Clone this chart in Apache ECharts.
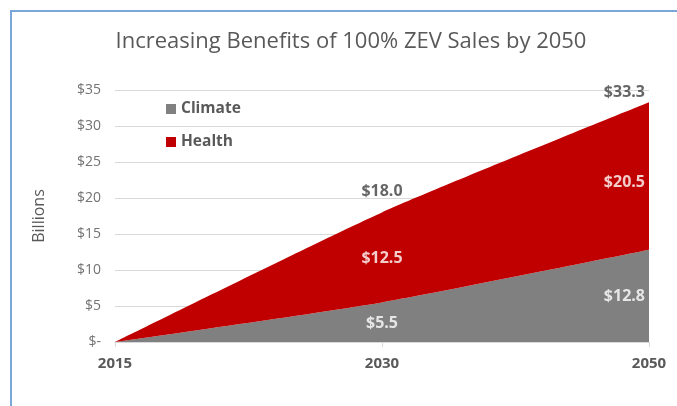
<!DOCTYPE html>
<html>
<head>
<meta charset="utf-8">
<script src="https://cdn.jsdelivr.net/npm/echarts@6/dist/echarts.min.js"></script>
<style>
    html, body { margin: 0; padding: 0; background: #fff; }
    #frame {
        position: absolute; left: 10px; top: 10px; width: 667px; height: 396px;
        border-left: 2px solid #7aa6d8; border-top: 2px solid #7aa6d8;
        box-sizing: border-box;
    }
    #chart { position: absolute; left: 0; top: 0; width: 677px; height: 406px; }
</style>
</head>
<body>
<div id="frame"></div>
<div id="chart"></div>
<script>
const years = ["2015", "2030", "2050"];
const climate = [0, 5.5, 12.8];
const health = [0, 12.5, 20.5];
const yTicks = [0, 5, 10, 15, 20, 25, 30, 35];

const chart = echarts.init(document.getElementById("chart"));

const totals = climate.map((c, i) => c + health[i]);
const money = v => "$" + v.toFixed(1);
const last = years.length - 1;

// label points sit in the middle of each band, totals just above the stack
function labelPoints(values, base, half, color, dys) {
    return values.map((v, i) => ({
        value: [i, base[i] + (half ? v / 2 : v)],
        raw: v,
        label: {
            show: true,
            color: color,
            align: i === last ? "right" : "center",
            offset: [i === last ? -4 : 0, dys[i]]
        }
    })).filter(d => d.raw > 0);
}

function labelSeries(data) {
    return {
        type: "scatter",
        data: data,
        symbolSize: 0,
        silent: true,
        z: 5,
        label: {
            show: true,
            position: "inside",
            fontFamily: "Open Sans",
            fontWeight: "bold",
            fontSize: 16,
            formatter: p => money(p.data.raw)
        }
    };
}

const zeros = climate.map(() => 0);

chart.setOption({
    animation: false,
    title: {
        text: "Increasing Benefits of 100% ZEV Sales by 2050",
        left: 346,
        textAlign: "center",
        top: 26,
        textStyle: { fontFamily: "Open Sans", fontWeight: "normal", fontSize: 22, color: "#595959" }
    },
    legend: {
        data: ["Climate", "Health"],
        orient: "vertical",
        left: 161,
        top: 96,
        icon: "rect",
        itemWidth: 10,
        itemHeight: 10,
        itemGap: 17,
        textStyle: { fontFamily: "Open Sans", fontWeight: "bold", fontSize: 15.5, color: "#595959" }
    },
    grid: { left: 115, right: 28, top: 90, bottom: 64 },
    xAxis: {
        type: "category",
        data: years,
        boundaryGap: false,
        axisLine: { lineStyle: { color: "#d9d9d9" } },
        axisTick: { show: true, length: 5, lineStyle: { color: "#d9d9d9" } },
        axisLabel: { margin: 14, fontFamily: "Open Sans", fontWeight: "bold", fontSize: 15, color: "#595959" }
    },
    yAxis: {
        type: "value",
        min: yTicks[0],
        max: yTicks[yTicks.length - 1],
        interval: 5,
        name: "Billions",
        nameLocation: "middle",
        nameGap: 68,
        nameTextStyle: { fontFamily: "Open Sans", fontSize: 16, color: "#595959" },
        axisLabel: {
            margin: 14,
            fontFamily: "Open Sans",
            fontSize: 14,
            color: "#737373",
            formatter: v => v === 0 ? "$-" : "$" + v
        },
        splitLine: { lineStyle: { color: "#d9d9d9" } }
    },
    series: [
        {
            name: "Climate",
            type: "line",
            stack: "total",
            data: climate,
            smooth: 0.2,
            symbol: "none",
            lineStyle: { width: 0 },
            itemStyle: { color: "#808080" },
            areaStyle: { color: "#808080", opacity: 1 }
        },
        {
            name: "Health",
            type: "line",
            stack: "total",
            data: health,
            smooth: 0.2,
            symbol: "none",
            lineStyle: { width: 0 },
            itemStyle: { color: "#c00000" },
            areaStyle: { color: "#c00000", opacity: 1 }
        },
        labelSeries(labelPoints(climate, zeros, true, "#ffffff", [0, 1, 1])),
        labelSeries(labelPoints(health, climate, true, "#ffffff", [0, 1, 6])),
        labelSeries(labelPoints(totals, zeros, false, "#404040", [0, -21, -10]))
    ]
});
</script>
</body>
</html>
